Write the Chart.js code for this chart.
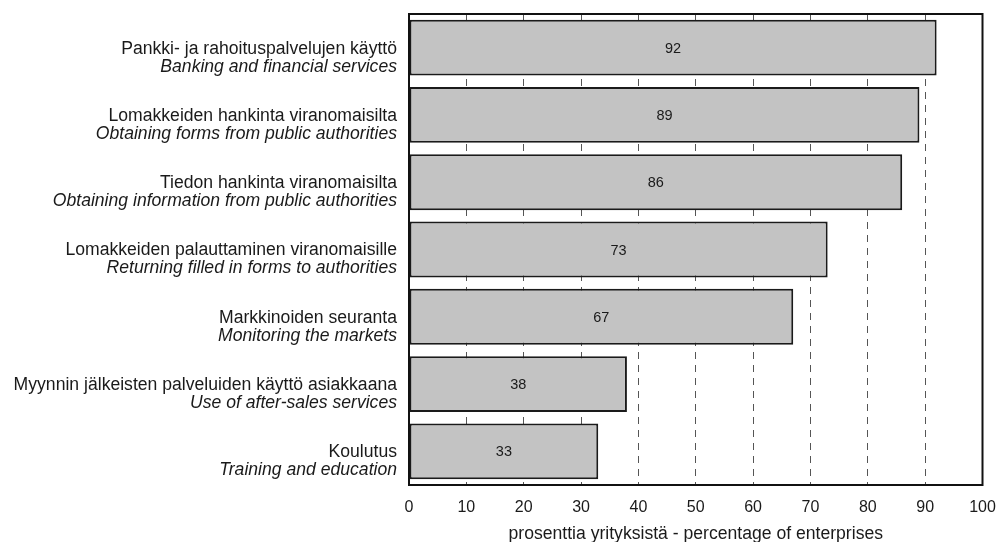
<!DOCTYPE html>
<html><head><meta charset="utf-8">
<script src="https://cdn.jsdelivr.net/npm/chart.js@4"></script>
<style>html,body{margin:0;padding:0;background:#fff}#wrap{width:996px;height:542px}</style>
</head><body><div id="wrap"><canvas id="c" width="996" height="542"></canvas></div>
<script>
const categoriesFi = [
  "Pankki- ja rahoituspalvelujen käyttö",
  "Lomakkeiden hankinta viranomaisilta",
  "Tiedon hankinta viranomaisilta",
  "Lomakkeiden palauttaminen viranomaisille",
  "Markkinoiden seuranta",
  "Myynnin jälkeisten palveluiden käyttö asiakkaana",
  "Koulutus"
];
const categoriesEn = [
  "Banking and financial services",
  "Obtaining forms from public authorities",
  "Obtaining information from public authorities",
  "Returning filled in forms to authorities",
  "Monitoring the markets",
  "Use of after-sales services",
  "Training and education"
];
const values = [92, 89, 86, 73, 67, 38, 33];
const tickValues = [0, 10, 20, 30, 40, 50, 60, 70, 80, 90, 100];
const axisTitle = "prosenttia yrityksistä - percentage of enterprises";

const FONT = "'Liberation Sans', Arial, sans-serif";

const labelPlugin = {
  id: 'labels',
  afterDatasetsDraw(chart) {
    const ctx = chart.ctx;
    const meta = chart.getDatasetMeta(0);
    ctx.save();
    ctx.fillStyle = '#1a1a1a';
    ctx.font = '14.5px ' + FONT;
    ctx.textAlign = 'center';
    ctx.textBaseline = 'middle';
    meta.data.forEach((bar, i) => {
      ctx.fillText(String(values[i]), (bar.x + bar.base) / 2, bar.y + 1);
    });
    // category labels
    const ys = chart.scales.y;
    const xr = ys.right - 12;
    ctx.textAlign = 'right';
    categoriesFi.forEach((t, i) => {
      const y = ys.getPixelForTick(i);
      ctx.font = '17.6px ' + FONT;
      ctx.fillText(t, xr, y + 1);
      ctx.font = 'italic 17.6px ' + FONT;
      ctx.fillText(categoriesEn[i], xr, y + 19);
    });
    // plot border
    const a = chart.chartArea;
    ctx.strokeStyle = '#111';
    ctx.lineWidth = 2;
    ctx.strokeRect(a.left, a.top, a.right - a.left, a.bottom - a.top);
    ctx.restore();
  }
};

new Chart(document.getElementById('c'), {
  type: 'bar',
  data: {
    labels: categoriesFi,
    datasets: [{
      data: values,
      backgroundColor: '#c3c3c3',
      borderColor: '#1a1a1a',
      borderWidth: 2,
      borderSkipped: false,
      barPercentage: 0.83,
      categoryPercentage: 1.0
    }]
  },
  options: {
    indexAxis: 'y',
    responsive: false,
    animation: false,
    devicePixelRatio: 1,
    layout: { padding: { left: 0, right: 0, top: 14, bottom: 0 } },
    plugins: { legend: { display: false }, tooltip: { enabled: false } },
    scales: {
      x: {
        min: 0, max: 100,
        afterBuildTicks(s) { s.ticks = tickValues.map(v => ({ value: v })); },
        ticks: { color: '#1a1a1a', font: { size: 16, family: FONT }, padding: 13 },
        grid: {
          color: (c) => (c.tick && (c.tick.value === 0 || c.tick.value === 100)) ? 'rgba(0,0,0,0)' : '#555',
          lineWidth: 1,
          drawTicks: false
        },
        border: { display: false, dash: [7, 6] },
        title: { display: true, text: axisTitle, color: '#1a1a1a', font: { size: 17.6, family: FONT }, padding: { top: 0, bottom: -3 } },
        afterFit(s) { s.height = 57; s.paddingRight = 13.5; s.paddingLeft = 0; }
      },
      y: {
        ticks: { display: false },
        grid: { display: false },
        border: { display: false },
        afterFit(s) { s.width = 409; }
      }
    }
  },
  plugins: [labelPlugin]
});
</script>
</body></html>
